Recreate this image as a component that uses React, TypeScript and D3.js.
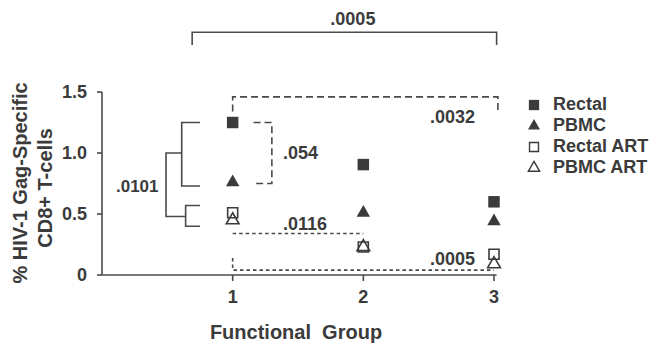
import * as d3 from "d3";

const groups = [1, 2, 3];
const seriesNames = ["Rectal", "PBMC", "Rectal ART", "PBMC ART"];
const rectal = [1.25, 0.905, 0.6];
const pbmc = [0.76, 0.51, 0.44];
const rectalArt = [0.51, 0.23, 0.17];
const pbmcArt = [0.45, 0.23, 0.09];
const yTicks = [0, 0.5, 1.0, 1.5];
const yTickLabels = ["0", "0.5", "1.0", "1.5"];

const width = 650;
const height = 346;
const ink = "#3b3b3b";
const lineInk = "#4a4a4a";
const font = "'Liberation Sans', Arial, sans-serif";

const x = d3.scaleLinear().domain([0, 3]).range([102, 494]);
const y = d3.scaleLinear().domain([0, 1.5]).range([275, 92]);

const series = [
  { name: seriesNames[0], values: rectal, shape: d3.symbolSquare, filled: true },
  { name: seriesNames[1], values: pbmc, shape: d3.symbolTriangle, filled: true },
  { name: seriesNames[2], values: rectalArt, shape: d3.symbolSquare, filled: false },
  { name: seriesNames[3], values: pbmcArt, shape: d3.symbolTriangle, filled: false },
];

function sym(shape: d3.SymbolType, filled: boolean, big: boolean) {
  const isSq = shape === d3.symbolSquare;
  let size = isSq ? (filled ? 132 : 100) : filled ? 78 : 70;
  if (!big) size *= 0.8;
  return d3.symbol(shape, size)() as string;
}

const line = d3.line();

export default function App() {
  const sw = 1.6;
  const dendro: [number, number][][] = [
    [[0.75, 1.25], [0.61, 1.25], [0.61, 0.73], [0.75, 0.73]],
    [[0.75, 0.57], [0.64, 0.57], [0.64, 0.4], [0.75, 0.4]],
    [[0.61, 1.0], [0.49, 1.0], [0.49, 0.48], [0.64, 0.48]],
  ];
  const P = (pts: [number, number][]) => line(pts.map(([a, b]) => [x(a), y(b)])) as string;

  return (
    <svg width={width} height={height} style={{ position: "absolute", left: 0, top: 0, background: "#fff" }}>
      <g fill="none" stroke={lineInk} strokeWidth={sw}>
        {/* axes */}
        <path d={P([[0, 0], [3.02, 0]])} />
        <path d={P([[0, 0], [0, 1.5]])} />
        {yTicks.map((t) => (
          <line key={t} x1={x(0) - 5} x2={x(0)} y1={y(t)} y2={y(t)} />
        ))}
        {groups.map((g) => (
          <line key={g} x1={x(g)} x2={x(g)} y1={y(0)} y2={y(0) + 6} />
        ))}

        {/* top solid bracket */}
        <path d={P([[0.69, 1.885], [0.69, 1.99], [3.02, 1.99], [3.02, 1.885]])} />
        {/* dendrogram */}
        {dendro.map((d, i) => (
          <path key={i} d={P(d)} />
        ))}
        {/* dashed brackets */}
        <path d={P([[1.0, 1.34], [1.0, 1.46], [3.03, 1.46], [3.03, 1.34]])} strokeDasharray="7,4" />
        <path d={P([[1.16, 1.25], [1.3, 1.25], [1.3, 0.75], [1.16, 0.75]])} strokeDasharray="7,4" />
        <path d={P([[1.0, 0.34], [2.0, 0.34]])} strokeDasharray="3.5,3" />
        <path d={P([[1.0, 0.14], [1.0, 0.04], [3.0, 0.04]])} strokeDasharray="3.5,3" />
      </g>

      {/* points */}
      {series.map((s) =>
        s.values.map((v, i) => (
          <path
            key={s.name + i}
            d={sym(s.shape, s.filled, true)}
            transform={`translate(${x(groups[i])},${y(v)})`}
            fill={s.filled ? ink : "#fff"}
            fillOpacity={s.filled ? 1 : 0}
            stroke={ink}
            strokeWidth={s.filled ? 0 : 1.6}
          />
        ))
      )}

      <g fontFamily={font} fontWeight="bold" fill={ink}>
        {yTicks.map((t, i) => (
          <text key={t} x={x(0) - 15} y={y(t)} dy="0.36em" textAnchor="end" fontSize={18}>
            {yTickLabels[i]}
          </text>
        ))}
        {groups.map((g) => (
          <text key={g} x={x(g)} y={303} textAnchor="middle" fontSize={18}>
            {g}
          </text>
        ))}
        <text x={296} y={339} textAnchor="middle" fontSize={20} style={{ whiteSpace: "pre" }}>
          {"Functional  Group"}
        </text>
        <text transform="translate(27,183) rotate(-90)" textAnchor="middle" fontSize={20}>
          % HIV-1 Gag-Specific
        </text>
        <text transform="translate(52,188) rotate(-90)" textAnchor="middle" fontSize={20}>
          CD8+ T-cells
        </text>

        {/* p-value labels */}
        <text x={x(1.92)} y={y(2.05)} textAnchor="middle" fontSize={18}>.0005</text>
        <text x={x(2.51)} y={y(1.245)} fontSize={18}>.0032</text>
        <text x={x(1.385)} y={y(0.95)} fontSize={18}>.054</text>
        <text x={x(0.107)} y={y(0.68)} fontSize={17}>.0101</text>
        <text x={x(1.385)} y={y(0.37)} fontSize={18}>.0116</text>
        <text x={x(2.51)} y={y(0.08)} fontSize={18}>.0005</text>

        {/* legend */}
        {series.map((s, i) => (
          <g key={s.name} transform={`translate(0,${110 + i * 21})`}>
            <path
              d={sym(s.shape, s.filled, false)}
              transform="translate(534,-5)"
              fill={s.filled ? ink : "#fff"}
              stroke={ink}
              strokeWidth={s.filled ? 0 : 1.4}
            />
            <text x={553} y={0} fontSize={18}>
              {s.name}
            </text>
          </g>
        ))}
      </g>
    </svg>
  );
}
